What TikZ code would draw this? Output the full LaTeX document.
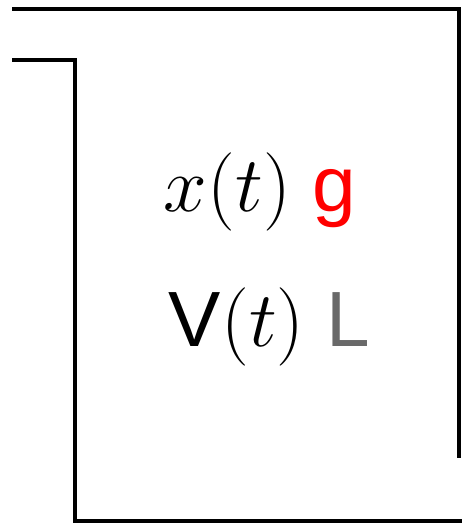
\documentclass[tikz,border=0pt]{standalone}
\usepackage{amsmath}
\usepackage{fontspec}
\setsansfont{Liberation Sans}
\usepackage{tikz}

\definecolor{lgray}{RGB}{105,105,105}

\begin{document}
\begin{tikzpicture}[x=1pt, y=1pt, line width=3.8pt,
    lbl/.style={anchor=base west, inner sep=0pt, font=\Huge\sffamily, scale=3.15}]
    \useasboundingbox (0,0) rectangle (462,524);
    \draw (12,515) -- (459,515) -- (459,66);
    \draw (12,464) -- (75,464) -- (75,3) -- (466,3);
    \node[lbl] (pos) at (158,312) {$x(t)$ \textcolor{red}{g}};
    \node[lbl] (vel) at (163,177) {V$(t)$ \textcolor{lgray}{L}};
\end{tikzpicture}
\end{document}
